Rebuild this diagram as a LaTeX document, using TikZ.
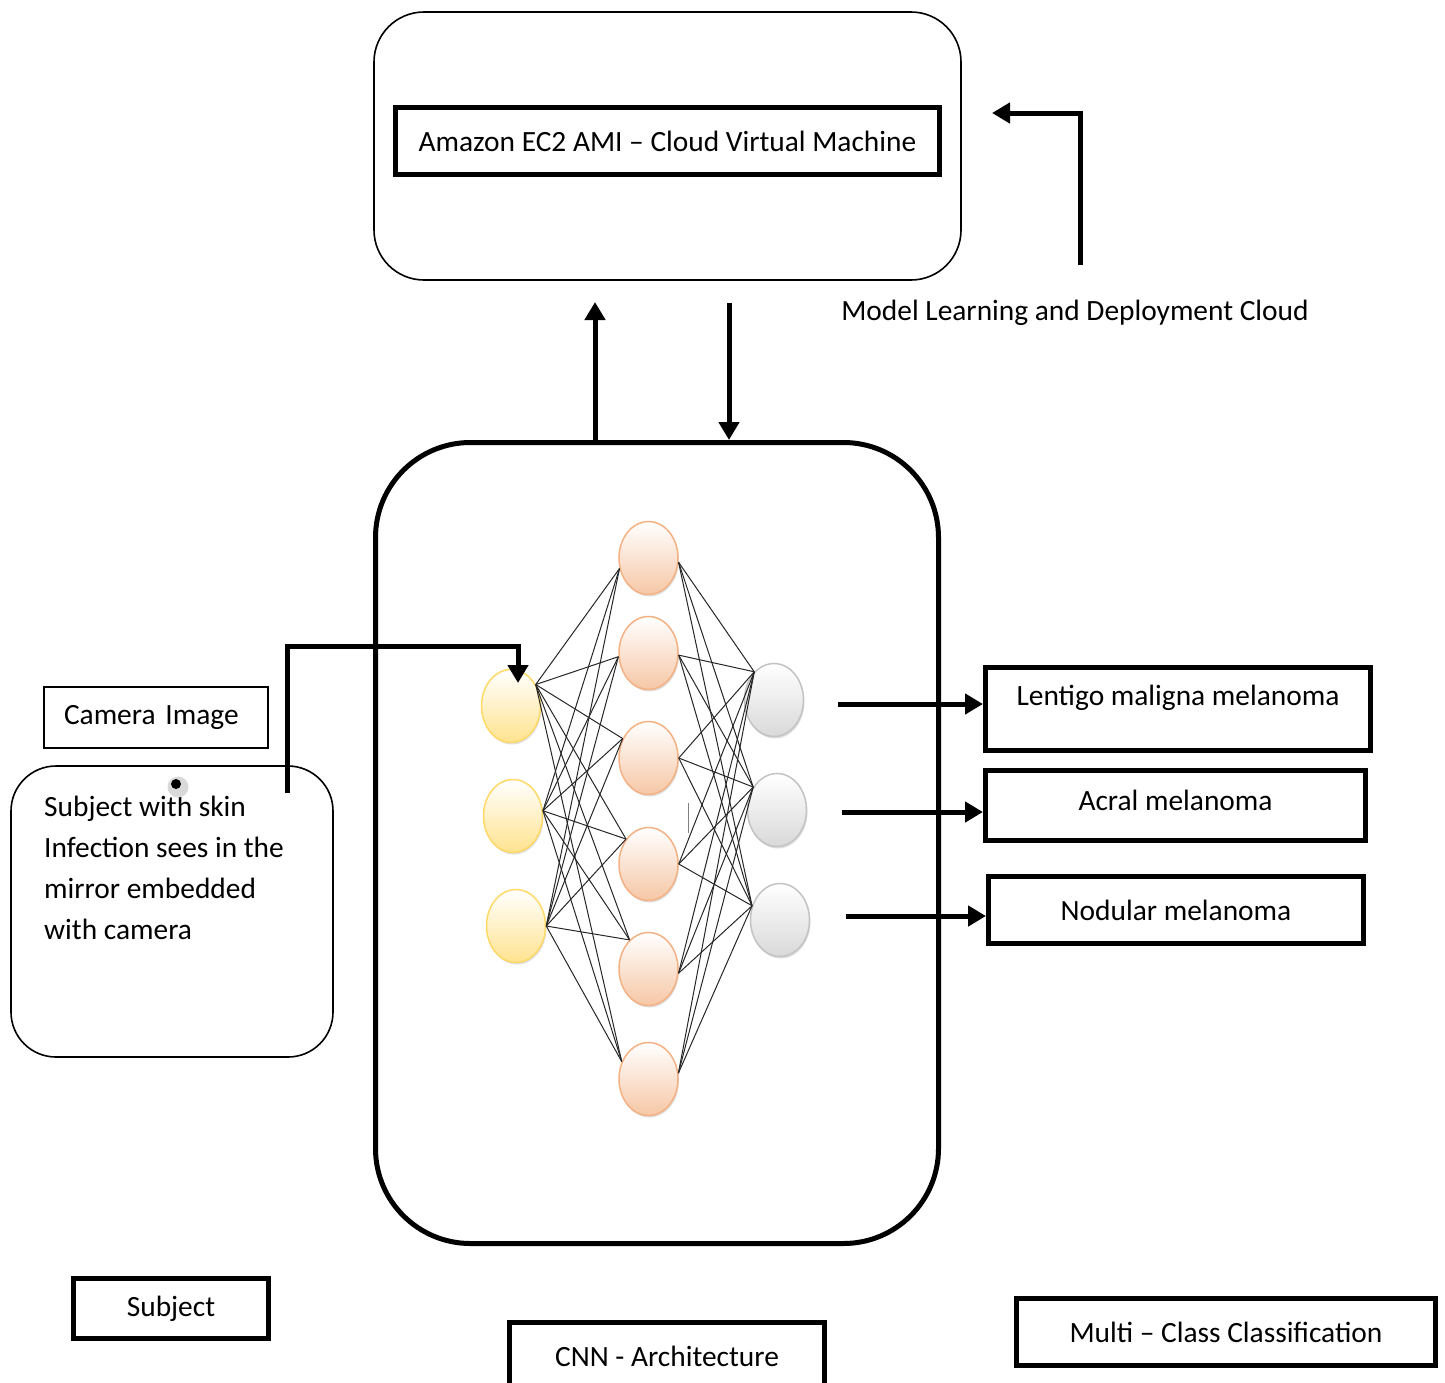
\documentclass[tikz,border=0pt]{standalone}
\usepackage{fontspec}
\setmainfont{Carlito}
\usetikzlibrary{arrows.meta,shapes.geometric,shadows}
\definecolor{inyel}{HTML}{FFE38F}
\definecolor{inyelline}{HTML}{FFD966}
\definecolor{hdor}{HTML}{F6C7A6}
\definecolor{hdorline}{HTML}{F4B183}
\definecolor{outgr}{HTML}{D9D9D9}
\definecolor{outgrline}{HTML}{C3C3C3}

\begin{document}
\begin{tikzpicture}[x=1pt,y=-1pt,
    every node/.style={font=\fontsize{29.4}{35}\selectfont},
    thinbox/.style={draw,line width=1.6pt},
    thickbox/.style={draw,line width=5pt},
    arr/.style={line width=5pt,-{Triangle[length=18pt,width=20pt]}},
    neuron/.style={ellipse,minimum width=59,minimum height=73,line width=1.5pt,
        drop shadow={shadow xshift=1pt,shadow yshift=-2pt,opacity=.25}},
    link/.style={line width=1pt,black!85}]
    \useasboundingbox (0,0) rectangle (1445,1382);
    \node[thinbox,rounded corners=50pt,minimum width=587,minimum height=268] (cloud) at (667.5,146) {};
    \node[thickbox,minimum width=544,minimum height=67] (ec2) at (667.5,141) {Amazon EC2 AMI – Cloud Virtual Machine};
    \node (mlc) at (1075,313) {Model Learning and Deployment Cloud};
    \coordinate (mlcfoot) at (1080,265);
    \coordinate (mlctip) at (992,113);
    \draw[arr] (mlcfoot) |- (mlctip);

    \node[thickbox,rounded corners=95pt,minimum width=563,minimum height=801] (cnn) at (657,843) {};
    \coordinate (uptip) at (595,302);
    \coordinate (dnfoot) at (729,303);
    \draw[arr] (cnn.north -| uptip) -- (uptip);
    \draw[arr] (dnfoot) -- (dnfoot |- cnn.north);

    \foreach \n/\x/\y in {1/511/706,2/513/816,3/516/926}
        \node[neuron,draw=inyelline,top color=white,bottom color=inyel] (in\n) at (\x,\y) {};
    \foreach \n/\y in {1/558,2/653,3/758,4/864,5/969,6/1079}
        \node[neuron,draw=hdorline,top color=white,bottom color=hdor] (hd\n) at (648.5,\y) {};
    \foreach \n/\x/\y in {1/774/700,2/777/810,3/780/920}
        \node[neuron,draw=outgrline,top color=white,bottom color=outgr] (out\n) at (\x,\y) {};
    \foreach \i/\a in {1/41,2/10,3/0}
        \foreach \j/\b in {1/200,2/187,3/143,4/132,5/123,6/147}
            \draw[link] (in\i.\a) -- (hd\j.\b);
    \foreach \j/\b in {1/352,2/356,3/0,4/0,5/352,6/11}
        \foreach \k/\c in {1/125,2/136,3/153}
            \draw[link] (hd\j.\b) -- (out\k.\c);
    \draw[gray,line width=1pt] (688,803) -- (688,833);

    \node[thinbox,minimum height=61,text width=184,inner xsep=20pt,align=left] (camimg) at (156,717.5) {Camera Image};
    \node[thinbox,rounded corners=45pt,minimum width=322,minimum height=291] (subj) at (172,911.5) {};
    \node[anchor=north west,inner sep=0pt,align=left,font=\fontsize{29.4}{41}\selectfont] (subjtxt) at (44,796)
        {Subject with skin\\Infection sees in the\\mirror embedded\\with camera};
    \node[circle,fill=gray!30,minimum size=21,inner sep=0pt] (camring) at (178,787) {};
    \node[circle,fill=black,minimum size=10,inner sep=0pt] (camdot) at (176,784) {};
    \coordinate (camfoot) at (287,793);
    \coordinate (camtip) at (518,683);
    \draw[arr] (camfoot) -- ++(0,-147) -| (camtip);

    \node[thickbox,minimum width=385,minimum height=83] (lmm) at (1178,709) {};
    \node (lmmtxt) at (1178,698) {Lentigo maligna melanoma};
    \node[thickbox,minimum width=380,minimum height=70] (acr) at (1175.5,805.5) {};
    \node (acrtxt) at (1175.5,800) {Acral melanoma};
    \node[thickbox,minimum width=375,minimum height=67] (nod) at (1176,910) {Nodular melanoma};
    \coordinate (oa1) at (838,704);
    \coordinate (oa2) at (842,812);
    \coordinate (oa3) at (846,916);
    \draw[arr] (oa1) -- (oa1 -| lmm.west);
    \draw[arr] (oa2) -- (oa2 -| acr.west);
    \draw[arr] (oa3) -- (oa3 -| nod.west);

    \node[thickbox,minimum width=195,minimum height=60] (subjlbl) at (171,1308.5) {Subject};
    \node[thickbox,minimum width=315,minimum height=67] (cnnlbl) at (667,1356) {CNN - Architecture};
    \node[thickbox,minimum width=419,minimum height=67] (mcc) at (1226,1332) {Multi – Class Classification};
\end{tikzpicture}
\end{document}
